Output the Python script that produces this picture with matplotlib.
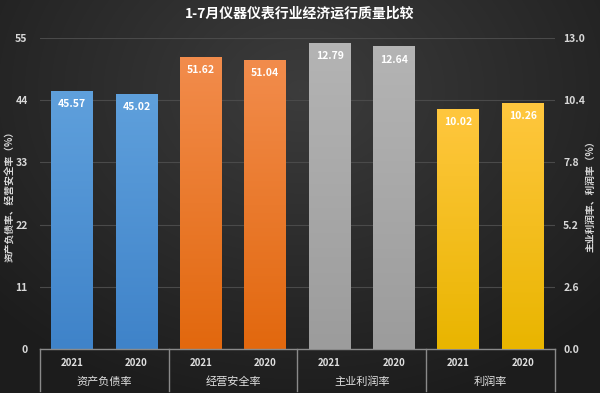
import numpy as np
import matplotlib.pyplot as plt
from matplotlib.colors import LinearSegmentedColormap
from matplotlib.transforms import blended_transform_factory

plt.rcParams['font.family'] = ['Noto Sans CJK SC', 'DejaVu Sans']

groups = ["资产负债率", "经营安全率", "主业利润率", "利润率"]
years = ["2021", "2020"]
left_vals = [45.57, 45.02, 51.62, 51.04]    # 资产负债率, 经营安全率
right_vals = [12.79, 12.64, 10.02, 10.26]   # 主业利润率, 利润率
bar_colors = [("#5fa0dc", "#3f83c9"), ("#f28c4c", "#e2680e"),
              ("#b4b4b4", "#9c9c9c"), ("#ffc73e", "#e9b500")]

fig = plt.figure(figsize=(6, 3.93), dpi=100)

# dark radial background
bg = fig.add_axes([0, 0, 1, 1], zorder=-10)
yy, xx = np.mgrid[0:393, 0:600]
r = np.sqrt(((xx - 300) / 420) ** 2 + ((yy - 90) / 330) ** 2)
bg.imshow(np.clip(r, 0, 1), cmap=LinearSegmentedColormap.from_list("bg", ["#3c3c3c", "#1c1c1c"]),
          vmin=0, vmax=1, aspect="auto", extent=[0, 1, 0, 1])
bg.axis("off")

ax = fig.add_axes([0.0667, 0.112, 0.858, 0.791])
ax.patch.set_alpha(0)
ax2 = ax.twinx()
ax2.patch.set_alpha(0)

width = 0.65


def gradient_bar(axis, x, h, c_top, c_bot):
    cmap = LinearSegmentedColormap.from_list("g", [c_bot, c_top])
    grad = np.linspace(0, 1, 100).reshape(-1, 1)
    axis.imshow(grad, cmap=cmap, aspect="auto", origin="lower",
                extent=[x - width / 2, x + width / 2, 0, h], zorder=3)
    axis.text(x, h - axis.get_ylim()[1] * 0.025, f"{h:.2f}", ha="center", va="top",
              color="white", fontsize=7.5, fontweight="bold", zorder=4)


ax.set_ylim(0, 55)
ax2.set_ylim(0, 13)
ax.set_xlim(-0.5, 7.5)

for i, v in enumerate(left_vals):
    g = i // 2
    gradient_bar(ax, i, v, *bar_colors[g])
for i, v in enumerate(right_vals):
    g = 2 + i // 2
    gradient_bar(ax2, i + 4, v, *bar_colors[g])

ax.set_xlim(-0.5, 7.5)
ax.set_ylim(0, 55)
ax2.set_ylim(0, 13)

ax.set_yticks(np.arange(0, 56, 11))
ax2.set_yticks(np.arange(0, 13.01, 2.6))
ax2.set_yticklabels([f"{t:.1f}" for t in np.arange(0, 13.01, 2.6)])
ax.grid(axis="y", color="#4a4a4a", lw=0.8, zorder=0)
ax.set_axisbelow(True)

for a in (ax, ax2):
    for s in a.spines.values():
        s.set_visible(False)
    a.tick_params(axis="y", length=0, colors="#d8d8d8", labelsize=7.5)
    for lbl in a.get_yticklabels():
        lbl.set_fontweight("bold")
ax.tick_params(axis="y", pad=9)
ax2.tick_params(axis="y", pad=6)
ax.tick_params(axis="x", length=0, labelbottom=False)

ax.set_ylabel("资产负债率、经营安全率（%）", color="#d8d8d8", fontsize=7, fontweight="bold")
ax.yaxis.set_label_coords(-0.048, 0.5)
ax2.set_ylabel("主业利润率、利润率（%）", color="#d8d8d8", fontsize=7, fontweight="bold",
               rotation=90)
ax2.yaxis.set_label_coords(1.06, 0.5)

# two-level category axis
tr = blended_transform_factory(ax.transData, ax.transAxes)
ax.plot([-0.5, 7.5], [0, 0], color="#8a8a8a", lw=1, transform=tr, clip_on=False, zorder=5)
for k in range(5):
    ax.plot([k * 2 - 0.5] * 2, [0, -0.135], color="#8a8a8a", lw=1, transform=tr, clip_on=False)
for i in range(8):
    ax.text(i, -0.045, years[i % 2], transform=tr, ha="center", va="center",
            color="#e0e0e0", fontsize=7, fontweight="bold")
for g, name in enumerate(groups):
    ax.text(g * 2 + 0.5, -0.105, name, transform=tr, ha="center", va="center",
            color="#e0e0e0", fontsize=8)

fig.text(0.5, 0.965, "1-7月仪器仪表行业经济运行质量比较", ha="center", va="center",
         color="white", fontsize=10, fontweight="bold")

fig.savefig("out.png", dpi=100)
